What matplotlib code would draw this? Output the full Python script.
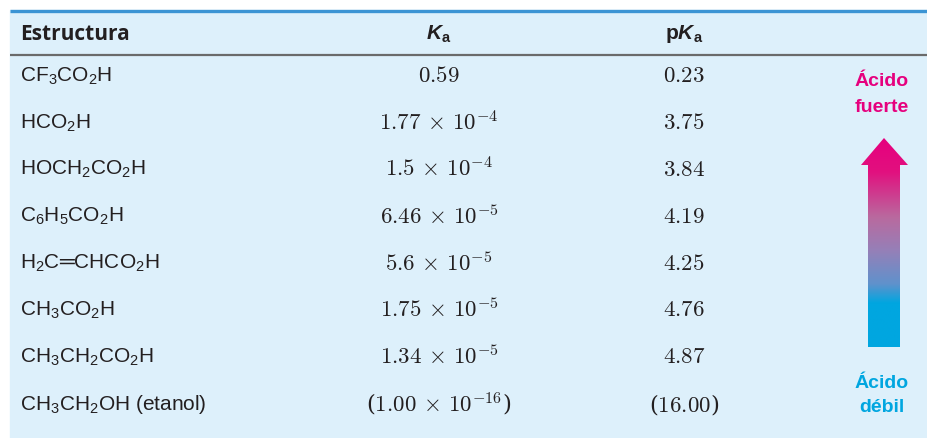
import numpy as np
import matplotlib.pyplot as plt
from matplotlib.patches import Rectangle, Polygon
from matplotlib.colors import LinearSegmentedColormap

# fuentes: texto en sans, numeros en estilo Computer Modern
plt.rcParams['mathtext.fontset'] = 'custom'
plt.rcParams['mathtext.rm'] = 'Liberation Sans'
plt.rcParams['mathtext.it'] = 'Liberation Sans:italic'
plt.rcParams['mathtext.bf'] = 'Liberation Sans:bold'
plt.rcParams['mathtext.bfit'] = 'Liberation Sans:italic:bold'
plt.rcParams['font.family'] = ['Liberation Sans', 'DejaVu Sans']

# datos de la tabla
estructuras = [r'CF$_3$CO$_2$H', r'HCO$_2$H', r'HOCH$_2$CO$_2$H', r'C$_6$H$_5$CO$_2$H',
               'H$_2$C\u2550CHCO$_2$H', r'CH$_3$CO$_2$H', r'CH$_3$CH$_2$CO$_2$H',
               r'CH$_3$CH$_2$OH (etanol)']
ka_mantisa = ['0.59', '1.77', '1.5', '6.46', '5.6', '1.75', '1.34', '1.00']
ka_exponente = [None, -4, -4, -5, -5, -5, -5, -16]
pka = ['0.23', '3.75', '3.84', '4.19', '4.25', '4.76', '4.87', '16.00']
entre_parentesis = [False] * 7 + [True]
encabezados = ['Estructura', r'$\mathbfit{K}_\mathbf{a}$', r'p$\mathbfit{K}_\mathbf{a}$']

oscuro = '#231F20'
fondo = '#DDF0FB'
magenta = '#E6007E'
cian = '#00A6E0'

fig = plt.figure(figsize=(9.28, 4.38), dpi=100)
ax = fig.add_axes([0, 0, 1, 1])

ax.add_patch(Rectangle((10, 10), 918, 428, color=fondo, zorder=0))
ax.plot([10, 928], [10.5, 10.5], color='#3B94D4', lw=2.4, solid_capstyle='butt')
ax.plot([10, 928], [55, 55], color='#6A6A6A', lw=1.6, solid_capstyle='butt')

x_estr, x_ka, x_pka = 20, 439, 684

ax.text(x_estr, 34, encabezados[0], fontsize=15, fontweight='bold', family='Open Sans',
        color=oscuro, va='center', ha='left')
ax.text(x_ka, 34, encabezados[1], fontsize=15, color=oscuro, va='center', ha='center')
ax.text(x_pka, 34, encabezados[2], fontsize=15, fontweight='bold', color=oscuro,
        va='center', ha='center')

paso = 46.9
for i, estr in enumerate(estructuras):
    y = 76 + paso * i
    ax.text(x_estr, y, estr, fontsize=15, color=oscuro, va='center', ha='left')
    if ka_exponente[i] is None:
        s_ka = '$' + ka_mantisa[i] + '$'
    else:
        s_ka = r'$%s\,\times\,10^{%d}$' % (ka_mantisa[i], ka_exponente[i])
    s_pka = '$' + pka[i] + '$'
    if entre_parentesis[i]:
        s_ka = '(' + s_ka + ')'
        s_pka = '(' + s_pka + ')'
    ax.text(x_ka, y, s_ka, fontsize=16.5, color=oscuro, va='center', ha='center',
            math_fontfamily='cm', family='DejaVu Serif')
    ax.text(x_pka, y, s_pka, fontsize=16.5, color=oscuro, va='center', ha='center',
            math_fontfamily='cm', family='DejaVu Serif')

# flecha con degradado
x0, x1 = 868, 900
hx0, hx1 = 861, 908
y_punta, y_base_cab, y_fondo = 138, 165, 347
flecha = Polygon([[x0, y_fondo], [x0, y_base_cab], [hx0, y_base_cab], [(x0 + x1) / 2, y_punta],
                  [hx1, y_base_cab], [x1, y_base_cab], [x1, y_fondo]], closed=True,
                 facecolor='none', edgecolor='none')
ax.add_patch(flecha)
cmap = LinearSegmentedColormap.from_list('acido', [
    (0.0, magenta), (0.16, '#E2107F'), (0.38, '#B96A9F'), (0.54, '#9580B8'),
    (0.70, '#5F92CC'), (0.79, cian), (1.0, cian)])
grad = np.linspace(0, 1, 256).reshape(-1, 1)
im = ax.imshow(grad, cmap=cmap, extent=[hx0, hx1, y_fondo, y_punta], aspect='auto',
               interpolation='bilinear', zorder=2)
im.set_clip_path(flecha)

ax.text(882, 81, 'Ácido', fontsize=14, fontweight='bold', color=magenta, ha='center', va='center')
ax.text(882, 108, 'fuerte', fontsize=14, fontweight='bold', color=magenta, ha='center', va='center')
ax.text(882, 383, 'Ácido', fontsize=14, fontweight='bold', color=cian, ha='center', va='center')
ax.text(882, 408, 'débil', fontsize=14, fontweight='bold', color=cian, ha='center', va='center')

ax.set_xlim(0, 928)
ax.set_ylim(438, 0)
ax.axis('off')
fig.savefig('out.png', dpi=100, facecolor='white')
